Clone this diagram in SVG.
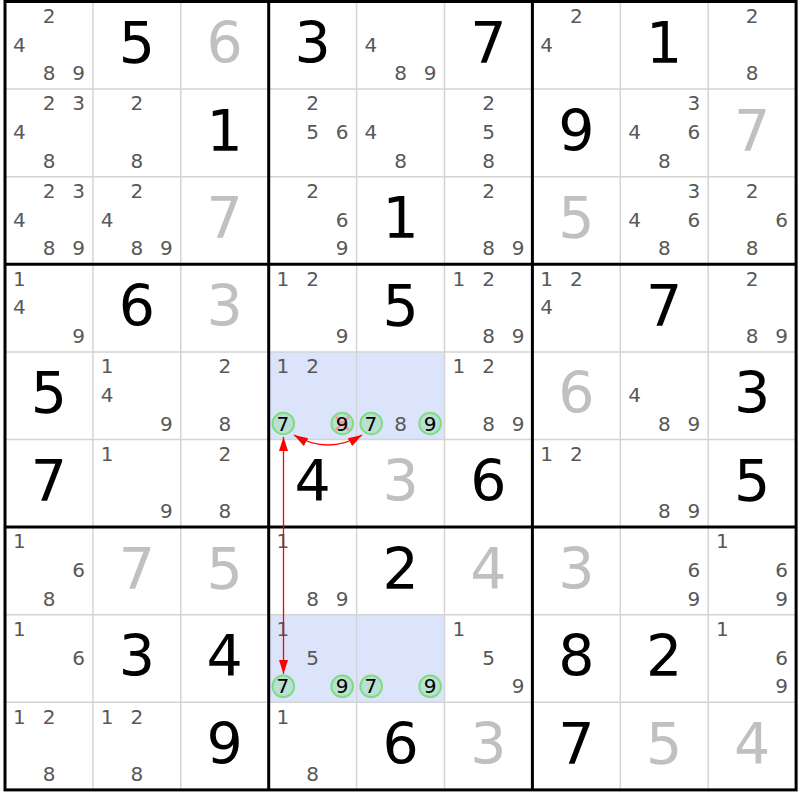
<svg xmlns="http://www.w3.org/2000/svg" width="800" height="800" viewBox="0 0 800 800">
<style>
text{font-family:"DejaVu Sans","Liberation Sans",sans-serif;text-anchor:middle}
.c{font-size:20px;fill:#585858}
.k{font-size:20px;fill:#000}
.b{font-size:57px;fill:#000}
.g{font-size:57px;fill:#c0c0c0}
.thin{stroke:#d4d4d4;stroke-width:1.5}
.thick{stroke:#000;stroke-width:3}
.hl{fill:#dbe4fb}
.ring{fill:#b8e0d3;stroke:#80dc80;stroke-width:2}
.x{stroke:#f29a9a;stroke-width:2.2}
.arr{fill:none;stroke:#ff0000;stroke-width:1.3}
</style>
<defs>
<marker id="ah" viewBox="0 0 14 9" refX="14" refY="4.5" markerWidth="14" markerHeight="9" markerUnits="userSpaceOnUse" orient="auto-start-reverse">
<path d="M0,0 L14,4.5 L0,9 z" fill="#ff0000"/>
</marker>
</defs>
<rect width="800" height="800" fill="#fff"/>
<g id="highlights">
<rect class="hl" x="268.7" y="351.9" width="175.8" height="87.6"/>
<rect class="hl" x="268.7" y="614.7" width="175.8" height="87.6"/>
</g>
<g id="grid">
<path class="thin" d="M92.9,1.5V789.9M180.8,1.5V789.9M356.6,1.5V789.9M444.5,1.5V789.9M620.3,1.5V789.9M708.2,1.5V789.9M5,89.1H796.1M5,176.7H796.1M5,351.9H796.1M5,439.5H796.1M5,614.7H796.1M5,702.3H796.1"/>
<path class="thick" d="M268.7,1.5V789.9M532.4,1.5V789.9M5,264.3H796.1M5,527.1H796.1"/>
<rect class="thick" x="5" y="1.5" width="791.1" height="788.4" fill="none"/>
</g>
<g id="cells">
<!-- Row 0 -->
<g id="r0c0" transform="translate(5,1.5)"><text class="c" x="44" y="21.4">2</text><text class="c" x="14.3" y="50.1">4</text><text class="c" x="44" y="78.8">8</text><text class="c" x="73.5" y="78.8">9</text></g>
<g id="r0c1" transform="translate(92.9,1.5)"><text class="b" x="43.95" y="61.5">5</text></g>
<g id="r0c2" transform="translate(180.8,1.5)"><text class="g" x="43.95" y="61.5">6</text></g>
<g id="r0c3" transform="translate(268.7,1.5)"><text class="b" x="43.95" y="61.5">3</text></g>
<g id="r0c4" transform="translate(356.6,1.5)"><text class="c" x="14.3" y="50.1">4</text><text class="c" x="44" y="78.8">8</text><text class="c" x="73.5" y="78.8">9</text></g>
<g id="r0c5" transform="translate(444.5,1.5)"><text class="b" x="43.95" y="61.5">7</text></g>
<g id="r0c6" transform="translate(532.4,1.5)"><text class="c" x="44" y="21.4">2</text><text class="c" x="14.3" y="50.1">4</text></g>
<g id="r0c7" transform="translate(620.3,1.5)"><text class="b" x="43.95" y="61.5">1</text></g>
<g id="r0c8" transform="translate(708.2,1.5)"><text class="c" x="44" y="21.4">2</text><text class="c" x="44" y="78.8">8</text></g>
<!-- Row 1 -->
<g id="r1c0" transform="translate(5,89.1)"><text class="c" x="44" y="21.4">2</text><text class="c" x="73.5" y="21.4">3</text><text class="c" x="14.3" y="50.1">4</text><text class="c" x="44" y="78.8">8</text></g>
<g id="r1c1" transform="translate(92.9,89.1)"><text class="c" x="44" y="21.4">2</text><text class="c" x="44" y="78.8">8</text></g>
<g id="r1c2" transform="translate(180.8,89.1)"><text class="b" x="43.95" y="61.5">1</text></g>
<g id="r1c3" transform="translate(268.7,89.1)"><text class="c" x="44" y="21.4">2</text><text class="c" x="44" y="50.1">5</text><text class="c" x="73.5" y="50.1">6</text></g>
<g id="r1c4" transform="translate(356.6,89.1)"><text class="c" x="14.3" y="50.1">4</text><text class="c" x="44" y="78.8">8</text></g>
<g id="r1c5" transform="translate(444.5,89.1)"><text class="c" x="44" y="21.4">2</text><text class="c" x="44" y="50.1">5</text><text class="c" x="44" y="78.8">8</text></g>
<g id="r1c6" transform="translate(532.4,89.1)"><text class="b" x="43.95" y="61.5">9</text></g>
<g id="r1c7" transform="translate(620.3,89.1)"><text class="c" x="73.5" y="21.4">3</text><text class="c" x="14.3" y="50.1">4</text><text class="c" x="73.5" y="50.1">6</text><text class="c" x="44" y="78.8">8</text></g>
<g id="r1c8" transform="translate(708.2,89.1)"><text class="g" x="43.95" y="61.5">7</text></g>
<!-- Row 2 -->
<g id="r2c0" transform="translate(5,176.7)"><text class="c" x="44" y="21.4">2</text><text class="c" x="73.5" y="21.4">3</text><text class="c" x="14.3" y="50.1">4</text><text class="c" x="44" y="78.8">8</text><text class="c" x="73.5" y="78.8">9</text></g>
<g id="r2c1" transform="translate(92.9,176.7)"><text class="c" x="44" y="21.4">2</text><text class="c" x="14.3" y="50.1">4</text><text class="c" x="44" y="78.8">8</text><text class="c" x="73.5" y="78.8">9</text></g>
<g id="r2c2" transform="translate(180.8,176.7)"><text class="g" x="43.95" y="61.5">7</text></g>
<g id="r2c3" transform="translate(268.7,176.7)"><text class="c" x="44" y="21.4">2</text><text class="c" x="73.5" y="50.1">6</text><text class="c" x="73.5" y="78.8">9</text></g>
<g id="r2c4" transform="translate(356.6,176.7)"><text class="b" x="43.95" y="61.5">1</text></g>
<g id="r2c5" transform="translate(444.5,176.7)"><text class="c" x="44" y="21.4">2</text><text class="c" x="44" y="78.8">8</text><text class="c" x="73.5" y="78.8">9</text></g>
<g id="r2c6" transform="translate(532.4,176.7)"><text class="g" x="43.95" y="61.5">5</text></g>
<g id="r2c7" transform="translate(620.3,176.7)"><text class="c" x="73.5" y="21.4">3</text><text class="c" x="14.3" y="50.1">4</text><text class="c" x="73.5" y="50.1">6</text><text class="c" x="44" y="78.8">8</text></g>
<g id="r2c8" transform="translate(708.2,176.7)"><text class="c" x="44" y="21.4">2</text><text class="c" x="73.5" y="50.1">6</text><text class="c" x="44" y="78.8">8</text></g>
<!-- Row 3 -->
<g id="r3c0" transform="translate(5,264.3)"><text class="c" x="14.3" y="21.4">1</text><text class="c" x="14.3" y="50.1">4</text><text class="c" x="73.5" y="78.8">9</text></g>
<g id="r3c1" transform="translate(92.9,264.3)"><text class="b" x="43.95" y="61.5">6</text></g>
<g id="r3c2" transform="translate(180.8,264.3)"><text class="g" x="43.95" y="61.5">3</text></g>
<g id="r3c3" transform="translate(268.7,264.3)"><text class="c" x="14.3" y="21.4">1</text><text class="c" x="44" y="21.4">2</text><text class="c" x="73.5" y="78.8">9</text></g>
<g id="r3c4" transform="translate(356.6,264.3)"><text class="b" x="43.95" y="61.5">5</text></g>
<g id="r3c5" transform="translate(444.5,264.3)"><text class="c" x="14.3" y="21.4">1</text><text class="c" x="44" y="21.4">2</text><text class="c" x="44" y="78.8">8</text><text class="c" x="73.5" y="78.8">9</text></g>
<g id="r3c6" transform="translate(532.4,264.3)"><text class="c" x="14.3" y="21.4">1</text><text class="c" x="44" y="21.4">2</text><text class="c" x="14.3" y="50.1">4</text></g>
<g id="r3c7" transform="translate(620.3,264.3)"><text class="b" x="43.95" y="61.5">7</text></g>
<g id="r3c8" transform="translate(708.2,264.3)"><text class="c" x="44" y="21.4">2</text><text class="c" x="44" y="78.8">8</text><text class="c" x="73.5" y="78.8">9</text></g>
<!-- Row 4 -->
<g id="r4c0" transform="translate(5,351.9)"><text class="b" x="43.95" y="61.5">5</text></g>
<g id="r4c1" transform="translate(92.9,351.9)"><text class="c" x="14.3" y="21.4">1</text><text class="c" x="14.3" y="50.1">4</text><text class="c" x="73.5" y="78.8">9</text></g>
<g id="r4c2" transform="translate(180.8,351.9)"><text class="c" x="44" y="21.4">2</text><text class="c" x="44" y="78.8">8</text></g>
<g id="r4c3" transform="translate(268.7,351.9)"><text class="c" x="14.3" y="21.4">1</text><text class="c" x="44" y="21.4">2</text>
<circle class="ring" cx="14.6" cy="71.6" r="10.8"/><text class="k" x="14.3" y="78.8">7</text>
<circle class="ring" cx="73.5" cy="71.6" r="10.8"/><path class="x" d="M67,65 L80,78 M80,65 L67,78"/><text class="k" x="73.5" y="78.8">9</text></g>
<g id="r4c4" transform="translate(356.6,351.9)"><circle class="ring" cx="14.6" cy="71.6" r="10.8"/><text class="k" x="14.3" y="78.8">7</text><text class="c" x="44" y="78.8">8</text><circle class="ring" cx="73.5" cy="71.6" r="10.8"/><text class="k" x="73.5" y="78.8">9</text></g>
<g id="r4c5" transform="translate(444.5,351.9)"><text class="c" x="14.3" y="21.4">1</text><text class="c" x="44" y="21.4">2</text><text class="c" x="44" y="78.8">8</text><text class="c" x="73.5" y="78.8">9</text></g>
<g id="r4c6" transform="translate(532.4,351.9)"><text class="g" x="43.95" y="61.5">6</text></g>
<g id="r4c7" transform="translate(620.3,351.9)"><text class="c" x="14.3" y="50.1">4</text><text class="c" x="44" y="78.8">8</text><text class="c" x="73.5" y="78.8">9</text></g>
<g id="r4c8" transform="translate(708.2,351.9)"><text class="b" x="43.95" y="61.5">3</text></g>
<!-- Row 5 -->
<g id="r5c0" transform="translate(5,439.5)"><text class="b" x="43.95" y="61.5">7</text></g>
<g id="r5c1" transform="translate(92.9,439.5)"><text class="c" x="14.3" y="21.4">1</text><text class="c" x="73.5" y="78.8">9</text></g>
<g id="r5c2" transform="translate(180.8,439.5)"><text class="c" x="44" y="21.4">2</text><text class="c" x="44" y="78.8">8</text></g>
<g id="r5c3" transform="translate(268.7,439.5)"><text class="b" x="43.95" y="61.5">4</text></g>
<g id="r5c4" transform="translate(356.6,439.5)"><text class="g" x="43.95" y="61.5">3</text></g>
<g id="r5c5" transform="translate(444.5,439.5)"><text class="b" x="43.95" y="61.5">6</text></g>
<g id="r5c6" transform="translate(532.4,439.5)"><text class="c" x="14.3" y="21.4">1</text><text class="c" x="44" y="21.4">2</text></g>
<g id="r5c7" transform="translate(620.3,439.5)"><text class="c" x="44" y="78.8">8</text><text class="c" x="73.5" y="78.8">9</text></g>
<g id="r5c8" transform="translate(708.2,439.5)"><text class="b" x="43.95" y="61.5">5</text></g>
<!-- Row 6 -->
<g id="r6c0" transform="translate(5,527.1)"><text class="c" x="14.3" y="21.4">1</text><text class="c" x="73.5" y="50.1">6</text><text class="c" x="44" y="78.8">8</text></g>
<g id="r6c1" transform="translate(92.9,527.1)"><text class="g" x="43.95" y="61.5">7</text></g>
<g id="r6c2" transform="translate(180.8,527.1)"><text class="g" x="43.95" y="61.5">5</text></g>
<g id="r6c3" transform="translate(268.7,527.1)"><text class="c" x="14.3" y="21.4">1</text><text class="c" x="44" y="78.8">8</text><text class="c" x="73.5" y="78.8">9</text></g>
<g id="r6c4" transform="translate(356.6,527.1)"><text class="b" x="43.95" y="61.5">2</text></g>
<g id="r6c5" transform="translate(444.5,527.1)"><text class="g" x="43.95" y="61.5">4</text></g>
<g id="r6c6" transform="translate(532.4,527.1)"><text class="g" x="43.95" y="61.5">3</text></g>
<g id="r6c7" transform="translate(620.3,527.1)"><text class="c" x="73.5" y="50.1">6</text><text class="c" x="73.5" y="78.8">9</text></g>
<g id="r6c8" transform="translate(708.2,527.1)"><text class="c" x="14.3" y="21.4">1</text><text class="c" x="73.5" y="50.1">6</text><text class="c" x="73.5" y="78.8">9</text></g>
<!-- Row 7 -->
<g id="r7c0" transform="translate(5,614.7)"><text class="c" x="14.3" y="21.4">1</text><text class="c" x="73.5" y="50.1">6</text></g>
<g id="r7c1" transform="translate(92.9,614.7)"><text class="b" x="43.95" y="61.5">3</text></g>
<g id="r7c2" transform="translate(180.8,614.7)"><text class="b" x="43.95" y="61.5">4</text></g>
<g id="r7c3" transform="translate(268.7,614.7)"><text class="c" x="14.3" y="21.4">1</text><text class="c" x="44" y="50.1">5</text><circle class="ring" cx="14.6" cy="71.6" r="10.8"/><text class="k" x="14.3" y="78.8">7</text><circle class="ring" cx="73.5" cy="71.6" r="10.8"/><text class="k" x="73.5" y="78.8">9</text></g>
<g id="r7c4" transform="translate(356.6,614.7)"><circle class="ring" cx="14.6" cy="71.6" r="10.8"/><text class="k" x="14.3" y="78.8">7</text><circle class="ring" cx="73.5" cy="71.6" r="10.8"/><text class="k" x="73.5" y="78.8">9</text></g>
<g id="r7c5" transform="translate(444.5,614.7)"><text class="c" x="14.3" y="21.4">1</text><text class="c" x="44" y="50.1">5</text><text class="c" x="73.5" y="78.8">9</text></g>
<g id="r7c6" transform="translate(532.4,614.7)"><text class="b" x="43.95" y="61.5">8</text></g>
<g id="r7c7" transform="translate(620.3,614.7)"><text class="b" x="43.95" y="61.5">2</text></g>
<g id="r7c8" transform="translate(708.2,614.7)"><text class="c" x="14.3" y="21.4">1</text><text class="c" x="73.5" y="50.1">6</text><text class="c" x="73.5" y="78.8">9</text></g>
<!-- Row 8 -->
<g id="r8c0" transform="translate(5,702.3)"><text class="c" x="14.3" y="21.4">1</text><text class="c" x="44" y="21.4">2</text><text class="c" x="44" y="78.8">8</text></g>
<g id="r8c1" transform="translate(92.9,702.3)"><text class="c" x="14.3" y="21.4">1</text><text class="c" x="44" y="21.4">2</text><text class="c" x="44" y="78.8">8</text></g>
<g id="r8c2" transform="translate(180.8,702.3)"><text class="b" x="43.95" y="61.5">9</text></g>
<g id="r8c3" transform="translate(268.7,702.3)"><text class="c" x="14.3" y="21.4">1</text><text class="c" x="44" y="78.8">8</text></g>
<g id="r8c4" transform="translate(356.6,702.3)"><text class="b" x="43.95" y="61.5">6</text></g>
<g id="r8c5" transform="translate(444.5,702.3)"><text class="g" x="43.95" y="61.5">3</text></g>
<g id="r8c6" transform="translate(532.4,702.3)"><text class="b" x="43.95" y="61.5">7</text></g>
<g id="r8c7" transform="translate(620.3,702.3)"><text class="g" x="43.95" y="61.5">5</text></g>
<g id="r8c8" transform="translate(708.2,702.3)"><text class="g" x="43.95" y="61.5">4</text></g>
</g>
<g id="connectors">
<path class="arr" d="M294,435 Q328,455 362,435" marker-start="url(#ah)" marker-end="url(#ah)"/>
<path class="arr" d="M283.5,437 L283.5,674" marker-start="url(#ah)" marker-end="url(#ah)"/>
</g>
</svg>
